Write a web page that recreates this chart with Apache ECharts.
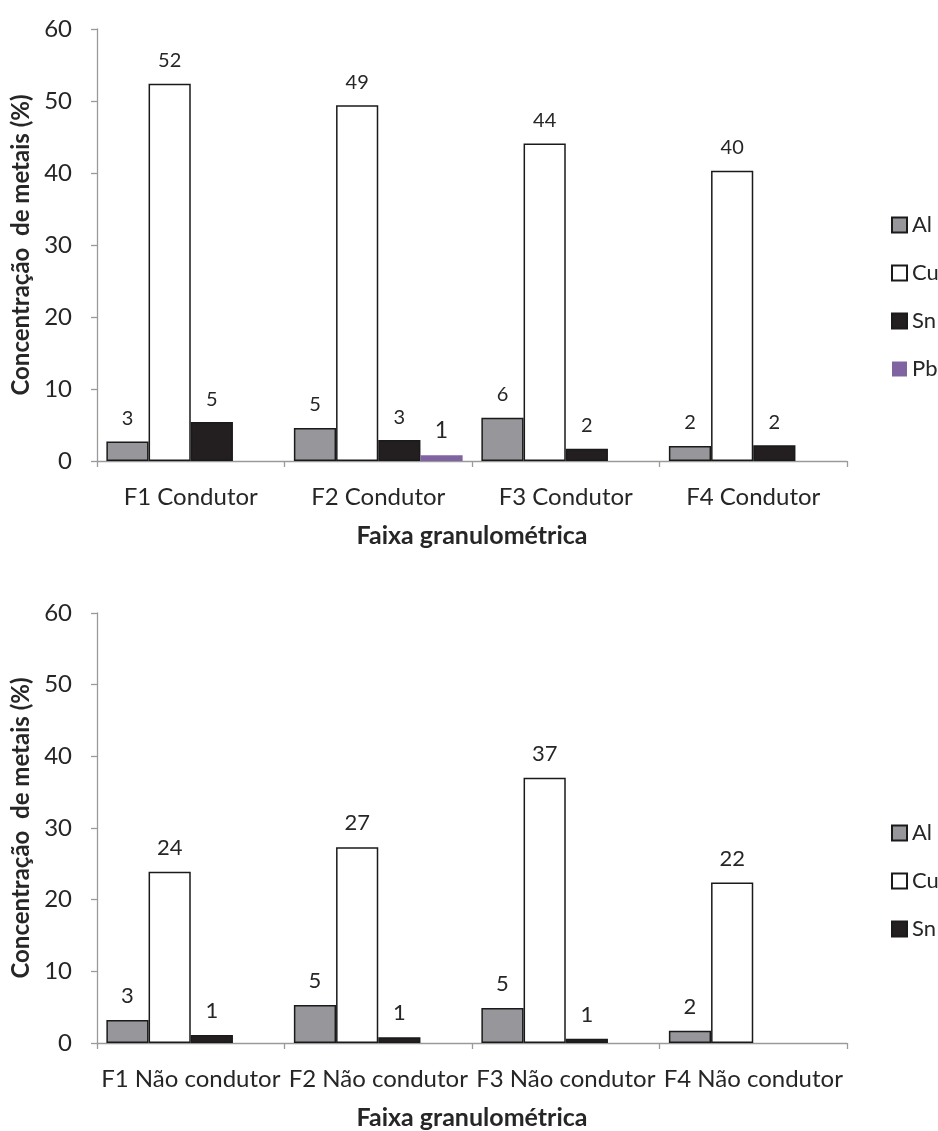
<!DOCTYPE html>
<html>
<head>
<meta charset="utf-8">
<script src="https://cdn.jsdelivr.net/npm/echarts@6/dist/echarts.min.js"></script>
<style>
  html, body { margin: 0; padding: 0; background: #fff; }
  #chart { width: 938px; height: 1131px; }
</style>
</head>
<body>
<div id="chart"></div>
<script>
// Metal concentration (%) per particle-size fraction
const categoriesTop = ['F1 Condutor', 'F2 Condutor', 'F3 Condutor', 'F4 Condutor'];
const categoriesBottom = ['F1 Não condutor', 'F2 Não condutor', 'F3 Não condutor', 'F4 Não condutor'];

const alTop = [2.7, 4.6, 6.0, 2.1];
const cuTop = [52.4, 49.4, 44.1, 40.3];
const snTop = [5.4, 2.9, 1.7, 2.2];
const pbTop = [null, 0.8, null, null];

const alBottom = [3.2, 5.3, 4.9, 1.7];
const cuBottom = [23.9, 27.3, 37.0, 22.4];
const snBottom = [1.1, 0.8, 0.6, null];
const pbBottom = [null, null, null, null];

const yMin = 0, yMax = 60, yStep = 10;

const FONT = 'Lato, "Open Sans", sans-serif';
const TEXT = '#262626';
const AXIS = '#9a9a9a';

const styles = {
  Al: { color: '#97979b', borderColor: '#1a1a1a', borderWidth: 1.5 },
  Cu: { color: '#ffffff', borderColor: '#1a1a1a', borderWidth: 1.5 },
  Sn: { color: '#231f20', borderColor: '#1a1a1a', borderWidth: 1.5 },
  Pb: { color: '#8064a2', borderWidth: 0 }
};

function barSeries(name, data, idx, labelSize) {
  return {
    name: name,
    type: 'bar',
    xAxisIndex: idx,
    yAxisIndex: idx,
    data: data,
    barGap: '0%',
    barCategoryGap: '10%',
    itemStyle: styles[name],
    label: {
      show: true,
      position: 'top',
      distance: 13,
      fontFamily: FONT,
      fontSize: labelSize,
      color: TEXT,
      formatter: p => (p.value == null ? '' : String(Math.round(p.value)))
    }
  };
}

function xAxis(idx, cats) {
  return {
    type: 'category',
    gridIndex: idx,
    data: cats,
    name: 'Faixa granulométrica',
    nameLocation: 'middle',
    nameGap: 62,
    nameTextStyle: { fontFamily: FONT, fontWeight: 'bold', fontSize: 25, color: TEXT },
    axisLine: { lineStyle: { color: AXIS, width: 1.3 } },
    axisTick: { show: true, length: 6, lineStyle: { color: AXIS, width: 1.3 } },
    axisLabel: { fontFamily: FONT, fontSize: 24, color: TEXT, margin: 24, interval: 0 }
  };
}

function yAxis(idx) {
  return {
    type: 'value',
    gridIndex: idx,
    min: yMin,
    max: yMax,
    interval: yStep,
    name: 'Concentração  de metais (%)',
    nameLocation: 'middle',
    nameGap: 61,
    nameTextStyle: { fontFamily: FONT, fontWeight: 'bold', fontSize: 24, color: TEXT },
    splitLine: { show: false },
    axisLine: { show: true, lineStyle: { color: AXIS, width: 1.3 } },
    axisTick: { show: true, length: 6, lineStyle: { color: AXIS, width: 1.3 } },
    axisLabel: { fontFamily: FONT, fontSize: 24, color: TEXT, margin: 25 }
  };
}

function legend(top, names) {
  return {
    orient: 'vertical',
    left: 886,
    top: top,
    data: names,
    icon: 'rect',
    itemWidth: 15,
    itemHeight: 15,
    itemGap: 26,
    textStyle: { fontFamily: FONT, fontSize: 22, color: TEXT }
  };
}

const chart = echarts.init(document.getElementById('chart'), null, { renderer: 'canvas' });
chart.setOption({
  backgroundColor: '#ffffff',
  animation: false,
  grid: [
    { left: 97, top: 29, width: 750, height: 432 },
    { left: 97, top: 613, width: 750, height: 431 }
  ],
  xAxis: [xAxis(0, categoriesTop), xAxis(1, categoriesBottom)],
  yAxis: [yAxis(0), yAxis(1)],
  legend: [
    legend(209, ['Al', 'Cu', 'Sn', 'Pb']),
    legend(817, ['Al', 'Cu', 'Sn'])
  ],
  series: [
    barSeries('Al', alTop, 0, 20),
    barSeries('Cu', cuTop, 0, 20),
    barSeries('Sn', snTop, 0, 20),
    barSeries('Pb', pbTop, 0, 23),
    barSeries('Al', alBottom, 1, 22),
    barSeries('Cu', cuBottom, 1, 22),
    barSeries('Sn', snBottom, 1, 22),
    barSeries('Pb', pbBottom, 1, 22)
  ]
});
</script>
</body>
</html>
